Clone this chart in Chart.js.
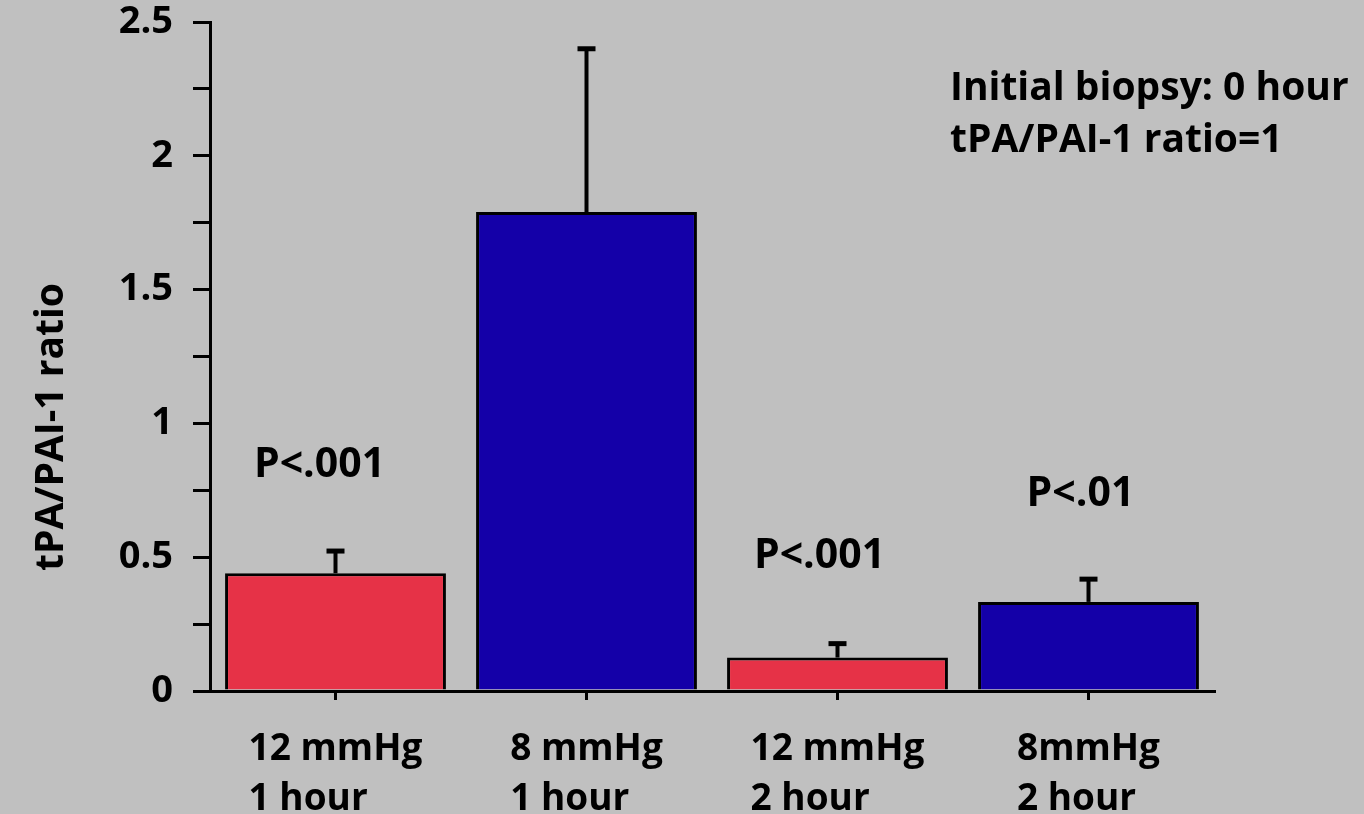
<!DOCTYPE html>
<html>
<head>
<meta charset="utf-8">
<script src="https://cdn.jsdelivr.net/npm/chart.js@4.4.0/dist/chart.umd.min.js"></script>
<style>
  html, body { margin: 0; padding: 0; background: #c0c0c0; }
  #wrap { width: 1364px; height: 814px; position: relative; }
</style>
</head>
<body>
<div id="wrap"><canvas id="chart"></canvas></div>
<script>
// chart data
const categories = [["12 mmHg", "1 hour"], ["8 mmHg", "1 hour"], ["12 mmHg", "2 hour"], ["8mmHg", "2 hour"]];
const ratioMeans = [0.44, 1.79, 0.125, 0.333];
const ratioErrors = [0.083, 0.61, 0.052, 0.085];
const barColors = ["#e63247", "#1400a8", "#e63247", "#1400a8"];
const yTickValues = [0, 0.5, 1, 1.5, 2, 2.5];
const pLabels = ["P<.001", "", "P<.001", "P<.01"];
const pLabelHeights = [0.80, null, 0.46, 0.69];
const noteLines = ["Initial biopsy: 0 hour", "tPA/PAI-1 ratio=1"];
const yTitle = "tPA/PAI-1 ratio";

const FAMILY = "'Open Sans', 'Noto Sans', sans-serif";
const font = size => "bold " + size + "px " + FAMILY;

const extras = {
  id: "extras",
  afterDatasetsDraw(chart) {
    const ctx = chart.ctx;
    const x = chart.scales.x, y = chart.scales.y;
    ctx.save();
    ctx.strokeStyle = "#000";
    ctx.fillStyle = "#000";
    // error bars (upper only)
    ratioMeans.forEach((m, i) => {
      const cx = x.getPixelForValue(i);
      const y0 = y.getPixelForValue(m);
      const y1 = y.getPixelForValue(m + ratioErrors[i]);
      ctx.lineWidth = 4;
      ctx.beginPath();
      ctx.moveTo(cx, y0);
      ctx.lineTo(cx, y1);
      ctx.stroke();
      ctx.lineWidth = 5;
      ctx.beginPath();
      ctx.moveTo(cx - 9, y1);
      ctx.lineTo(cx + 9, y1);
      ctx.stroke();
    });
    // p-value labels
    ctx.font = font(41);
    ctx.textAlign = "center";
    ctx.textBaseline = "alphabetic";
    const pShift = [-16, 0, -18, -8];
    pLabels.forEach((t, i) => {
      if (!t) return;
      ctx.fillText(t, x.getPixelForValue(i) + pShift[i], y.getPixelForValue(pLabelHeights[i]));
    });
    // category labels: block centred on tick, lines left-aligned
    ctx.font = font(37);
    ctx.textAlign = "left";
    categories.forEach((lines, i) => {
      const w = Math.max(...lines.map(l => ctx.measureText(l).width));
      const left = x.getPixelForValue(i) - w / 2;
      lines.forEach((l, k) => ctx.fillText(l, left, 760 + k * 50));
    });
    // note in the top right
    ctx.font = font(39);
    noteLines.forEach((l, k) => ctx.fillText(l, 950, 100 + k * 52));
    // y axis title
    ctx.translate(52, 427);
    ctx.rotate(-Math.PI / 2);
    ctx.textAlign = "center";
    ctx.textBaseline = "middle";
    ctx.fillText(yTitle, 0, 0);
    ctx.restore();
  }
};

new Chart(document.getElementById("chart"), {
  type: "bar",
  data: {
    labels: categories,
    datasets: [{
      data: ratioMeans,
      backgroundColor: barColors,
      borderColor: "#000",
      borderWidth: 3,
      borderSkipped: "bottom",
      barPercentage: 0.88,
      categoryPercentage: 1
    }]
  },
  options: {
    responsive: true,
    maintainAspectRatio: false,
    animation: false,
    layout: { padding: { top: 22, right: 150, left: 0, bottom: 0 } },
    plugins: { legend: { display: false }, tooltip: { enabled: false } },
    scales: {
      x: {
        ticks: { display: false },
        grid: { offset: false, drawOnChartArea: false, drawTicks: true, tickLength: 9, color: "#000", lineWidth: 3 },
        border: { color: "#000", width: 3 },
        afterFit: s => { s.height = 123; s.paddingLeft = 0; s.paddingRight = 0; }
      },
      y: {
        min: 0,
        max: 2.5,
        afterBuildTicks: s => {
          const t = [];
          for (let v = 0; v <= 2.5001; v += 0.25) t.push({ value: Math.round(v * 100) / 100 });
          s.ticks = t;
        },
        ticks: {
          color: "#000",
          font: { family: FAMILY, weight: "bold", size: 38 },
          padding: 20,
          callback: v => yTickValues.includes(v) ? String(v) : ""
        },
        grid: { drawOnChartArea: false, drawTicks: true, tickLength: 17, color: "#000", lineWidth: 3 },
        border: { color: "#000", width: 3 },
        afterFit: s => { s.width = 210; s.paddingTop = 0; s.paddingBottom = 0; }
      }
    }
  },
  plugins: [extras]
});
</script>
</body>
</html>
